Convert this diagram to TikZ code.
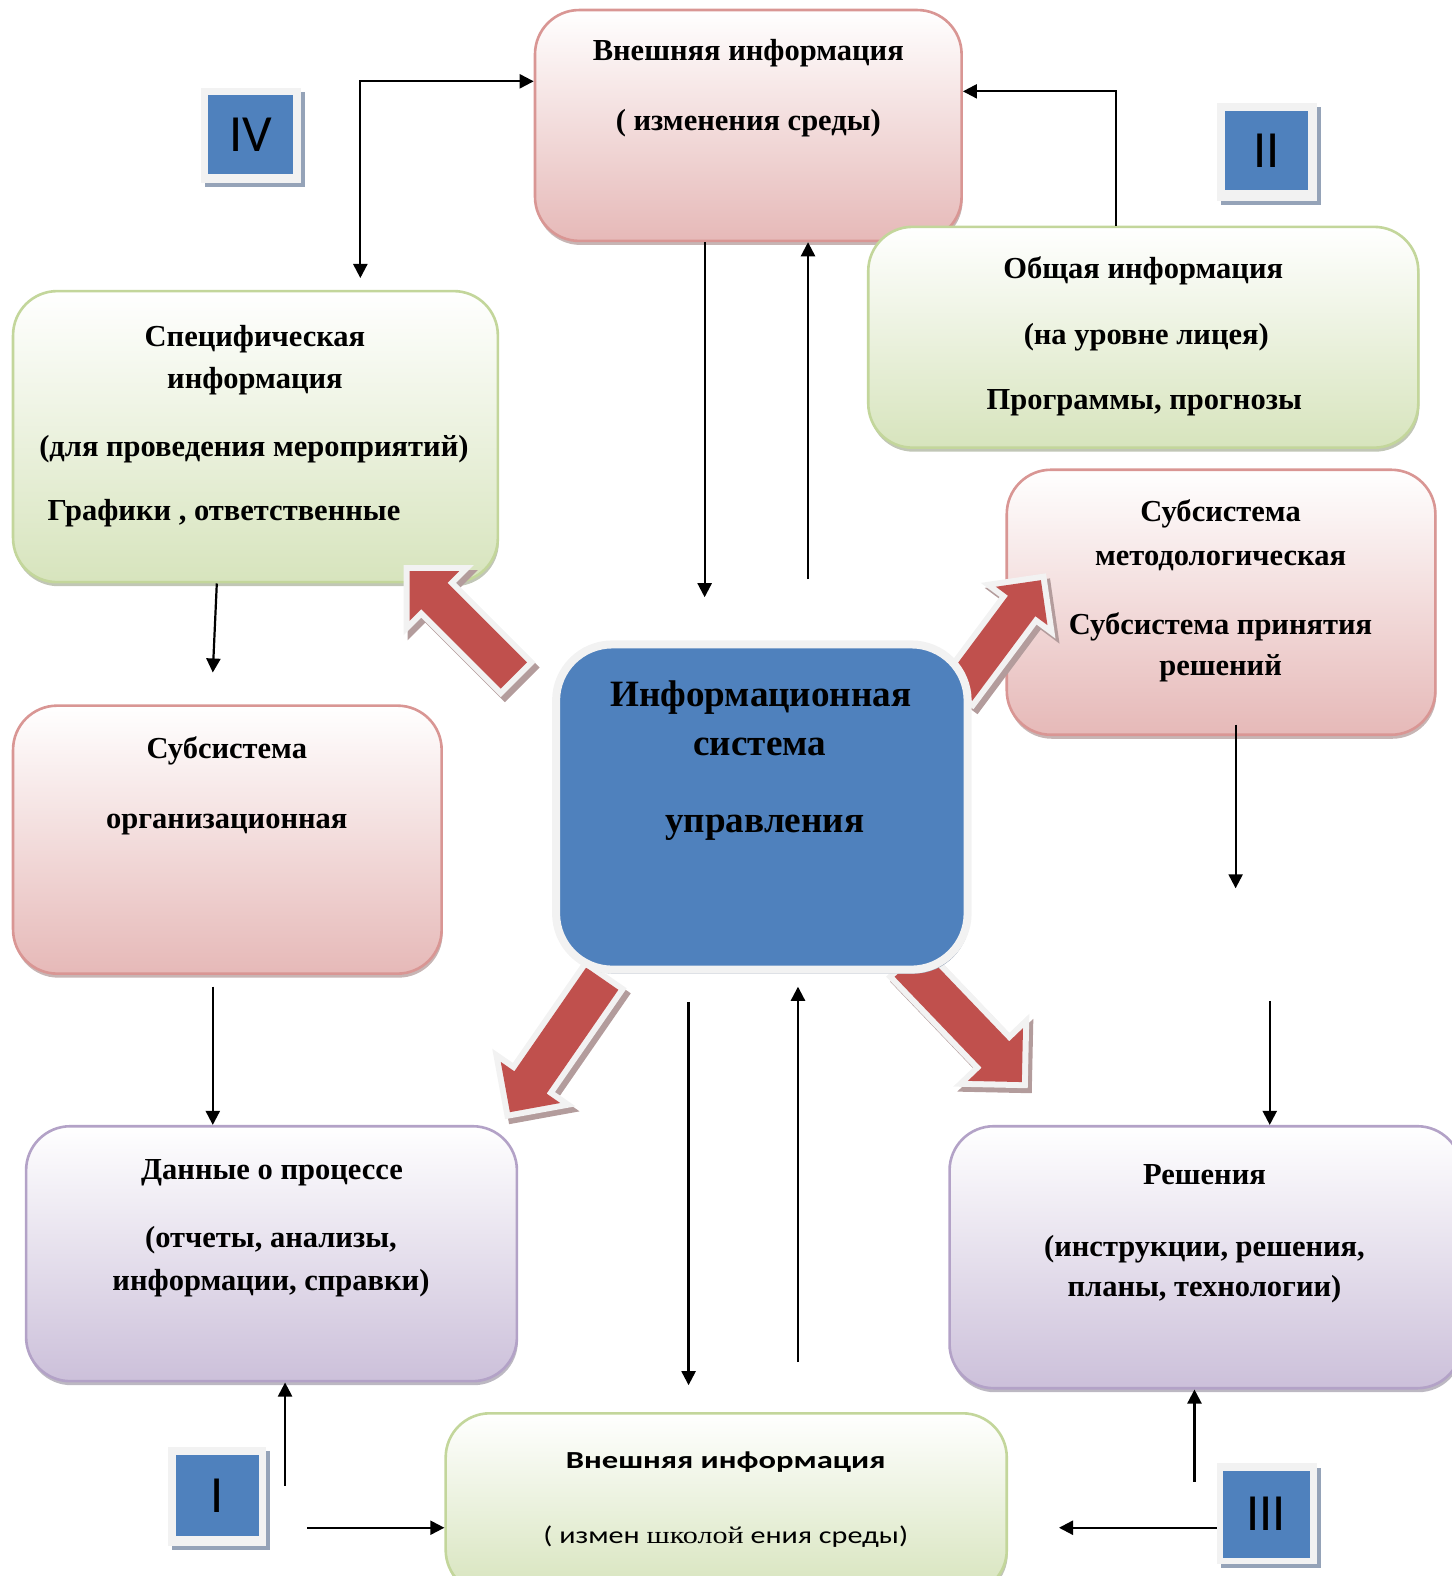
\documentclass[tikz,border=0pt]{standalone}
\usepackage{fontspec}
\setmainfont{Liberation Serif}
\newfontfamily\sansw[FakeStretch=1.33]{Carlito}
\newfontfamily\sansr[FakeStretch=1.25]{Carlito}
\newfontfamily\serifw[FakeStretch=1.25]{Liberation Serif}
\newfontfamily\numfont{Carlito}
\usetikzlibrary{arrows.meta,shadows,calc}
\definecolor{pinkB}{HTML}{E6B9B8}
\definecolor{pinkD}{HTML}{D99694}
\definecolor{greenB}{HTML}{D7E4BD}
\definecolor{greenD}{HTML}{C3D69B}
\definecolor{purpB}{HTML}{CCC0DA}
\definecolor{purpD}{HTML}{B3A2C7}
\definecolor{blueF}{HTML}{4F81BD}
\definecolor{paleG}{HTML}{F2F2F2}
\definecolor{redA}{HTML}{C0504D}
\definecolor{shadowA}{HTML}{B39C9C}
\definecolor{shadowB}{HTML}{95A3B8}
\tikzset{
  box/.style={rounded corners=22pt, line width=1.3pt, inner sep=0pt},
  pinkbox/.style={box, draw=pinkD, top color=white, bottom color=pinkB,
    drop shadow={shadow xshift=0.5pt, shadow yshift=-2pt, fill=pinkD!60!black, opacity=0.45}},
  greenbox/.style={box, draw=greenD, top color=white, bottom color=greenB,
    drop shadow={shadow xshift=0.5pt, shadow yshift=-2pt, fill=greenD!60!black, opacity=0.45}},
  purpbox/.style={box, draw=purpD, top color=white, bottom color=purpB,
    drop shadow={shadow xshift=0.5pt, shadow yshift=-2pt, fill=purpD!60!black, opacity=0.45}},
  centerbox/.style={rounded corners=28pt, draw=paleG, line width=4pt, fill=blueF, inner sep=0pt,
    drop shadow={shadow xshift=1pt, shadow yshift=-2pt, fill=shadowB, opacity=1}},
  romout/.style={fill=paleG, inner sep=0pt,
    drop shadow={shadow xshift=2pt, shadow yshift=-2pt, fill=shadowB, opacity=1}},
  romin/.style={fill=blueF, inner sep=0pt, font=\numfont\fontsize{26}{30}\selectfont},
  txt/.style={font=\bfseries\fontsize{15.2}{18}\selectfont, anchor=base, inner sep=0pt},
  bigtxt/.style={font=\bfseries\fontsize{18.5}{22}\selectfont, anchor=base, inner sep=0pt},
  sanstxt/.style={font=\sansr\fontsize{12}{14}\selectfont, anchor=base, inner sep=0pt},
  conn/.style={line width=1.1pt, -{Triangle[length=7pt,width=7pt]}},
  conn2/.style={line width=1.1pt, {Triangle[length=7pt,width=7pt]}-{Triangle[length=7pt,width=7pt]}},
}
\newcommand\blockarrow[7]{%
  \pgfmathsetmacro\baL{veclen(#3-#1,#4-#2)}%
  \pgfmathsetmacro\baA{atan2(#2-#4,#3-#1)}%
  \pgfmathsetmacro\baB{\baL-#7}%
  \pgfmathsetmacro\baS{#5/2}%
  \pgfmathsetmacro\baH{#6/2}%
  \begin{scope}[shift={(#1+4,#2+5)},rotate=\baA]
    \filldraw[shadowA,line width=6pt,line join=miter] (0,-\baS) -- (\baB,-\baS) -- (\baB,-\baH) -- (\baL,0) -- (\baB,\baH) -- (\baB,\baS) -- (0,\baS) -- cycle;
  \end{scope}
  \begin{scope}[shift={(#1,#2)},rotate=\baA]
    \draw[paleG,line width=6pt,line join=miter] (0,-\baS) -- (\baB,-\baS) -- (\baB,-\baH) -- (\baL,0) -- (\baB,\baH) -- (\baB,\baS) -- (0,\baS) -- cycle;
    \fill[redA] (0,-\baS) -- (\baB,-\baS) -- (\baB,-\baH) -- (\baL,0) -- (\baB,\baH) -- (\baB,\baS) -- (0,\baS) -- cycle;
  \end{scope}}
\begin{document}
\begin{tikzpicture}[x=0.5pt,y=-0.5pt]
% boxes
\node[pinkbox, minimum width=212.5pt, minimum height=115pt] (b1) at (745.5,125) {};
\node[greenbox, minimum width=274pt, minimum height=110pt] (b2) at (1139,336) {};
\node[greenbox, minimum width=241.5pt, minimum height=145pt] (b3) at (254.5,435) {};
\node[pinkbox, minimum width=213.5pt, minimum height=132pt] (b4) at (1216.5,600) {};
\node[pinkbox, minimum width=213.5pt, minimum height=133.5pt] (b5) at (226.5,836.5) {};
\node[purpbox, minimum width=244.5pt, minimum height=127pt] (b7) at (270.5,1249) {};
\node[purpbox, minimum width=255pt, minimum height=130.5pt] (b8) at (1201,1252.5) {};
\node[greenbox, minimum width=279.5pt, minimum height=90pt] (b9) at (723.5,1498) {};
% roman numeral boxes
\node[romout, minimum width=50pt, minimum height=47pt] (r4) at (250,135) {};
\node[romin, minimum width=42.5pt, minimum height=39pt] (r4i) at (249.5,134) {IV};
\node[romout, minimum width=50pt, minimum height=48.5pt] (r2) at (1262,151.5) {};
\node[romin, minimum width=41.5pt, minimum height=39pt] (r2i) at (1261.5,150) {II};
\node[romout, minimum width=49pt, minimum height=49pt] (r1) at (216,1491) {};
\node[romin, minimum width=41.5pt, minimum height=40pt] (r1i) at (216.5,1490) {I};
\node[romout, minimum width=50pt, minimum height=50pt] (r3) at (1262,1508) {};
\node[romin, minimum width=43.5pt, minimum height=43.5pt] (r3i) at (1261.5,1508.5) {III};
% big red arrows
\blockarrow{512}{673}{408}{569}{37}{70}{35}
\blockarrow{955}{688}{1037}{578}{34}{64}{32}
\blockarrow{600}{975}{508}{1108}{39}{72}{36}
\blockarrow{905}{960}{1018}{1078}{38}{76}{38}
% center box
\node[centerbox, minimum width=205pt, minimum height=162pt] (b6) at (759,804) {};
% texts
\node[txt] (t1a) at (745.5,60) {Внешняя информация};
\node[txt] (t1b) at (745.5,130) {( изменения среды)};
\node[txt] (t2a) at (1139,277) {Общая информация};
\node[txt] (t2b) at (1142,343) {(на уровне лицея)};
\node[txt] (t2c) at (1140,408) {Программы, прогнозы};
\node[txt] (t3a) at (254,345) {Специфическая};
\node[txt] (t3b) at (254,387) {информация};
\node[txt] (t3c) at (253,455) {(для проведения мероприятий)};
\node[txt, anchor=base west] (t3d) at (47,519) {Графики , ответственные};
\node[txt] (t4a) at (1216,520) {Субсистема};
\node[txt] (t4b) at (1216,563) {методологическая};
\node[txt] (t4c) at (1216,632) {Субсистема принятия};
\node[txt] (t4d) at (1216,673) {решений};
\node[txt] (t5a) at (226,756) {Субсистема};
\node[txt] (t5b) at (226,825) {организационная};
\node[bigtxt] (t6a) at (758,704) {Информационная};
\node[bigtxt] (t6b) at (757,753) {система};
\node[bigtxt] (t6c) at (762,829) {управления};
\node[txt] (t7a) at (271,1175) {Данные о процессе};
\node[txt] (t7b) at (270,1243) {(отчеты, анализы,};
\node[txt] (t7c) at (270,1286) {информации, справки)};
\node[txt] (t8a) at (1200,1180) {Решения};
\node[txt] (t8b) at (1200,1252) {(инструкции, решения,};
\node[txt] (t8c) at (1200,1292) {планы, технологии)};
\node[sanstxt, font=\sansw\bfseries\fontsize{12.2}{14}\selectfont] (t9a) at (723,1463) {Внешняя информация};
\node[sanstxt] (t9b) at (723,1538) {( измен {\serifw школой} ения среды)};
% connector free ends
\coordinate (e1) at (359,277);
\coordinate (e3) at (702,595);
\coordinate (s4) at (805,577);
\coordinate (e5) at (212,670);
\coordinate (s6) at (1231,722);
\coordinate (e6) at (1231,885);
\coordinate (s7) at (212,983);
\coordinate (s8) at (1265,997);
\coordinate (s9) at (686,998);
\coordinate (e9) at (686,1380);
\coordinate (s10) at (795,1357);
\coordinate (e10) at (795,983);
\coordinate (s11) at (284,1480);
\coordinate (s12) at (306,1522);
\coordinate (s13) at (1190,1476);
\coordinate (s14) at (1212,1522);
\coordinate (e14) at (1055,1522);
% connectors
\draw[conn2] (e1) |- ([yshift=22pt]b1.west);
\draw[conn] ([xshift=-13.5pt]b2.north) |- ([yshift=17pt]b1.east);
\draw[conn] ([xshift=-21.75pt]b1.south) -- (e3);
\draw[conn] (s4) -- ([xshift=29.75pt]b1.south);
\draw[conn] ([xshift=-19.25pt]b3.south) -- (e5);
\draw[conn] (s6) -- (e6);
\draw[conn] (s7) -- ([xshift=-29.25pt]b7.north);
\draw[conn] (s8) -- ([xshift=32pt]b8.north);
\draw[conn] (s9) -- (e9);
\draw[conn] (s10) -- (e10);
\draw[conn] (s11) -- ([xshift=6.75pt]b7.south);
\draw[conn] (s12) -- ([yshift=-12pt]b9.west);
\draw[conn] (s13) -- ([xshift=-5.5pt]b8.south);
\draw[conn] (s14) -- (e14);
% fix page to the reference frame (compensates the pt/bp page size difference)
\pgfresetboundingbox
\useasboundingbox (0,0) rectangle (1445.6,1570.1);
\end{tikzpicture}
\end{document}
